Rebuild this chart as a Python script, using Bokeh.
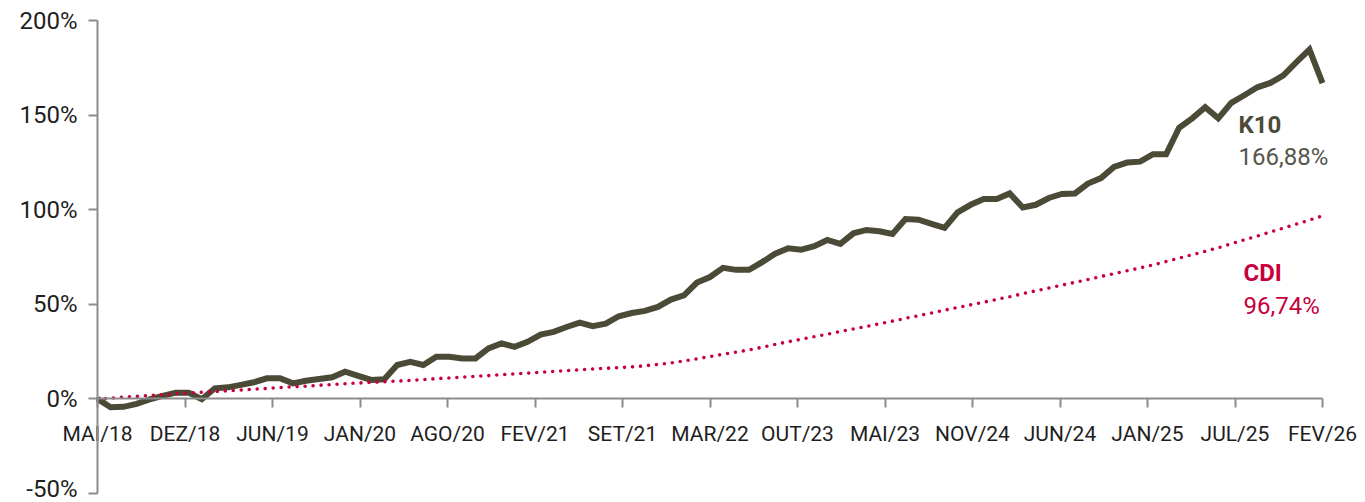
from bokeh.plotting import figure
from bokeh.models import Range1d, FixedTicker, CustomJSTickFormatter, Label
from bokeh.embed import file_html
from bokeh.resources import INLINE

tick_labels = ["MAI/18", "DEZ/18", "JUN/19", "JAN/20", "AGO/20", "FEV/21", "SET/21",
               "MAR/22", "OUT/23", "MAI/23", "NOV/24", "JUN/24", "JAN/25", "JUL/25", "FEV/26"]

k10 = [0.0, -4.4, -4.2, -2.6, -0.3, 1.6, 3.3, 3.3, -0.2, 5.6, 6.1, 7.4, 8.8, 10.9, 10.9,
       8.2, 9.6, 10.5, 11.4, 14.4, 12.2, 10.0, 10.4,
       17.9, 19.6, 17.9, 22.3, 22.3, 21.4, 21.4, 26.7, 29.3, 27.5, 30.2, 34.0, 35.4, 38.0,
       40.3, 38.4, 39.8, 43.7, 45.4, 46.5, 48.6, 52.5, 54.7, 61.5, 64.4, 69.3, 68.2, 68.2,
       72.3, 76.7, 79.6, 78.9, 80.7, 84.0, 81.9, 87.5, 89.3, 88.6, 87.2, 95.1, 94.7, 92.5,
       90.4, 98.6, 102.6, 105.6, 105.6, 108.6, 101.2, 102.6, 106.2, 108.3, 108.6, 113.8,
       116.7, 122.6, 124.9, 125.4, 129.3, 129.3, 143.3, 148.3, 154.2, 148.3, 156.5, 160.5,
       164.7, 167.0, 171.0, 178.0, 184.6, 166.88]

cdi = [0.0, 0.4, 0.9, 1.3, 1.8, 2.2, 2.7, 3.1, 3.5, 3.9, 4.3, 4.7, 5.1, 5.5, 6.0,
       6.4, 6.7, 7.2, 7.6, 8.0, 8.4, 8.7, 9.1, 9.4, 9.8, 10.2, 10.7, 11.1, 11.5, 11.9,
       12.3, 12.8, 13.2, 13.6, 14.1, 14.5, 14.9, 15.4, 15.8, 16.2, 16.5, 16.9, 17.5, 18.2,
       19.0, 20.1, 21.2, 22.4, 23.6, 24.7, 25.9, 27.3, 28.8, 30.2, 31.5, 32.9, 34.2, 35.6,
       37.0, 38.3, 39.7, 41.1, 42.6, 44.0, 45.4, 46.9, 48.3, 49.7, 51.1, 52.6, 54.0, 55.6,
       57.1, 58.6, 60.1, 61.6, 63.1, 64.7, 66.2, 67.7, 69.2, 70.8, 72.6, 74.4, 76.2, 78.0,
       79.9, 82.0, 84.1, 86.1, 88.2, 90.3, 92.4, 94.5, 96.74]

y_ticks = [-50, 0, 50, 100, 150, 200]
series_names = ["K10", "CDI"]
final_labels = ["166,88%", "96,74%"]

FONT = "Roboto"
OLIVE = "#4a4a37"
CRIMSON = "#c8003c"
AXIS_GREY = "#8c8c8c"

W, H = 1365, 502
# pixel layout of the plotting area (axes cross at x index 0 and y = 0)
PX_LEFT, PX_RIGHT, PX_TOP, PX_BOTTOM = 97, 1322, 20, 493

n = len(k10)
xs = list(range(n))
step = (n - 1) / (len(tick_labels) - 1)

ppx = (PX_RIGHT - PX_LEFT) / (n - 1)
ppy = (PX_BOTTOM - PX_TOP) / (y_ticks[-1] - y_ticks[0])
x_range = Range1d(-PX_LEFT / ppx, (n - 1) + (W - PX_RIGHT) / ppx)
y_range = Range1d(y_ticks[0] - (H - PX_BOTTOM) / ppy, y_ticks[-1] + PX_TOP / ppy)

p = figure(width=W, height=H, output_backend="svg", toolbar_location=None,
           x_range=x_range, y_range=y_range,
           min_border_left=0, min_border_right=0, min_border_top=0, min_border_bottom=0)
p.outline_line_color = None
p.xgrid.visible = False
p.ygrid.visible = False
p.background_fill_color = "white"
p.border_fill_color = "white"

p.line(xs, k10, line_color=OLIVE, line_width=6, line_join="miter")
p.line(xs, cdi, line_color=CRIMSON, line_width=3.6, line_dash="0 8", line_cap="round")

xa = p.xaxis[0]
xa.fixed_location = 0
xa.bounds = (0, n - 1)
xa.ticker = FixedTicker(ticks=[i * step for i in range(len(tick_labels))])
xa.formatter = CustomJSTickFormatter(args=dict(labels=tick_labels, step=step),
                                     code="return labels[Math.round(tick/step)];")
xa.major_label_text_font = FONT
xa.major_label_text_font_size = "21px"
xa.major_label_text_color = "#1e1e1e"
xa.major_label_standoff = 14

ya = p.yaxis[0]
ya.fixed_location = 0
ya.bounds = (y_ticks[0], y_ticks[-1])
ya.ticker = FixedTicker(ticks=y_ticks)
ya.formatter = CustomJSTickFormatter(code="return tick + '%';")
ya.major_label_text_font = FONT
ya.major_label_text_font_size = "24px"
ya.major_label_text_color = "#1e1e1e"
ya.major_label_standoff = 11

for ax in (xa, ya):
    ax.axis_line_color = AXIS_GREY
    ax.axis_line_width = 2
    ax.major_tick_line_color = AXIS_GREY
    ax.major_tick_line_width = 2
    ax.major_tick_out = 9
    ax.major_tick_in = 0
    ax.minor_tick_line_color = None

lx1 = (1238 - PX_LEFT) / ppx
lx2 = (1243 - PX_LEFT) / ppx
p.add_layout(Label(x=lx1, y=144.7, text=series_names[0], text_font=FONT, text_font_style="bold",
                   text_font_size="24px", text_color=OLIVE, text_baseline="middle"))
p.add_layout(Label(x=lx1, y=127.9, text=final_labels[0], text_font=FONT,
                   text_font_size="24px", text_color="#55554a", text_baseline="middle"))
p.add_layout(Label(x=lx2, y=66.3, text=series_names[1], text_font=FONT, text_font_style="bold",
                   text_font_size="24px", text_color=CRIMSON, text_baseline="middle"))
p.add_layout(Label(x=lx2, y=48.9, text=final_labels[1], text_font=FONT,
                   text_font_size="24px", text_color=CRIMSON, text_baseline="middle"))

open("out.html", "w").write(file_html(p, INLINE))
